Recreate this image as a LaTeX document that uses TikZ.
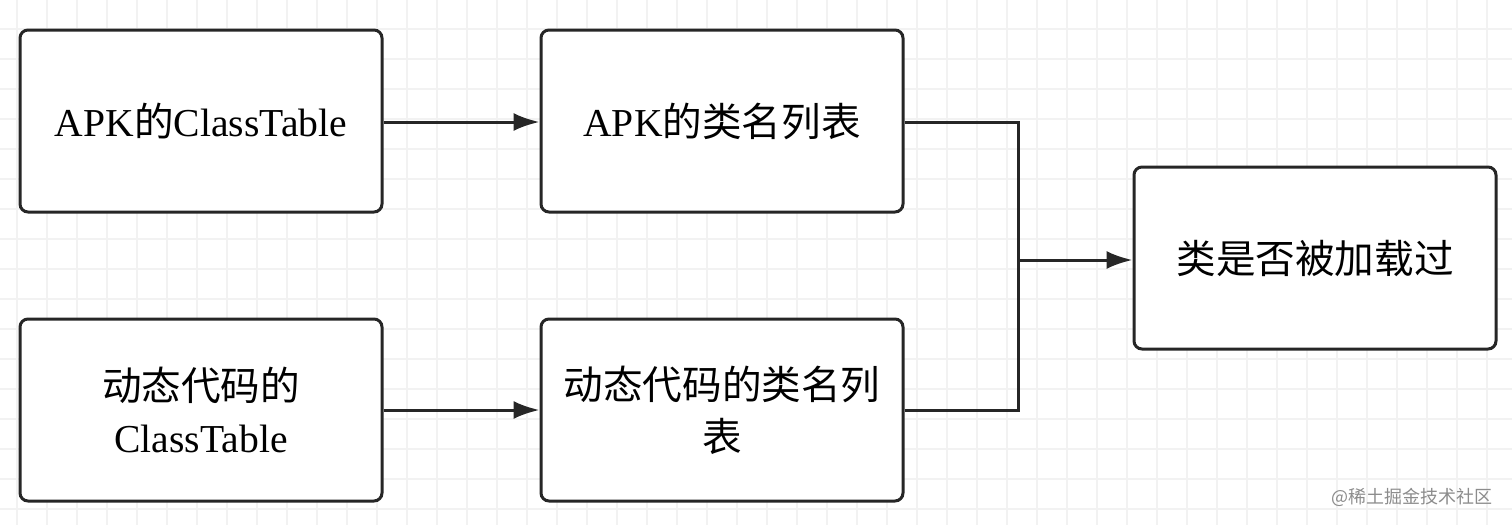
\documentclass[tikz,border=0pt]{standalone}
\usepackage{fontspec}
\setmainfont{Liberation Serif}
\newfontfamily\cjk{Noto Sans CJK SC}
\usetikzlibrary{arrows.meta}
\begin{document}
\begin{tikzpicture}[x=0.5pt,y=-0.5pt,
  box/.style={draw=black!85,line width=1.5pt,rounded corners=4pt,fill=white,minimum width=181pt,minimum height=91pt,align=center,font=\fontsize{19.8}{26}\selectfont},
  conn/.style={draw=black!85,line width=1.5pt},
  arr/.style={conn,-{Latex[length=13pt,width=9pt]}}]
\fill[white] (0,0) rectangle (1512,525);
\useasboundingbox (0,0) rectangle (1512,525);
\foreach \x in {17,47,...,1512} \draw[black!5,line width=0.8pt] (\x,0) -- (\x,525);
\foreach \y in {29,59,...,525} \draw[black!5,line width=0.8pt] (0,\y) -- (1512,\y);
\node[box] (a) at (201,121) {APK{\cjk 的}ClassTable};
\node[box] (b) at (722,121) {APK{\cjk 的类名列表}};
\node[box] (c) at (201,410) {{\cjk 动态代码的}\\ClassTable};
\node[box] (d) at (722,410) {{\cjk 动态代码的类名列}\\{\cjk 表}};
\node[box] (e) at (1315,258) {{\cjk 类是否被加载过}};
\coordinate (j) at (1018,260);
\draw[arr] (a.east |- 0,122) -- (b.west |- 0,122);
\draw[arr] (c.east |- 0,410) -- (d.west |- 0,410);
\draw[conn] (b.east |- 0,122) -| (j);
\draw[conn] (d.east |- 0,410) -| (j);
\draw[arr] (j) -- (e.west |- j);
\node[anchor=east,text=black!45,font=\cjk\fontsize{9}{10}\selectfont] (w) at (1500,497) {@稀土掘金技术社区};
\end{tikzpicture}
\end{document}
